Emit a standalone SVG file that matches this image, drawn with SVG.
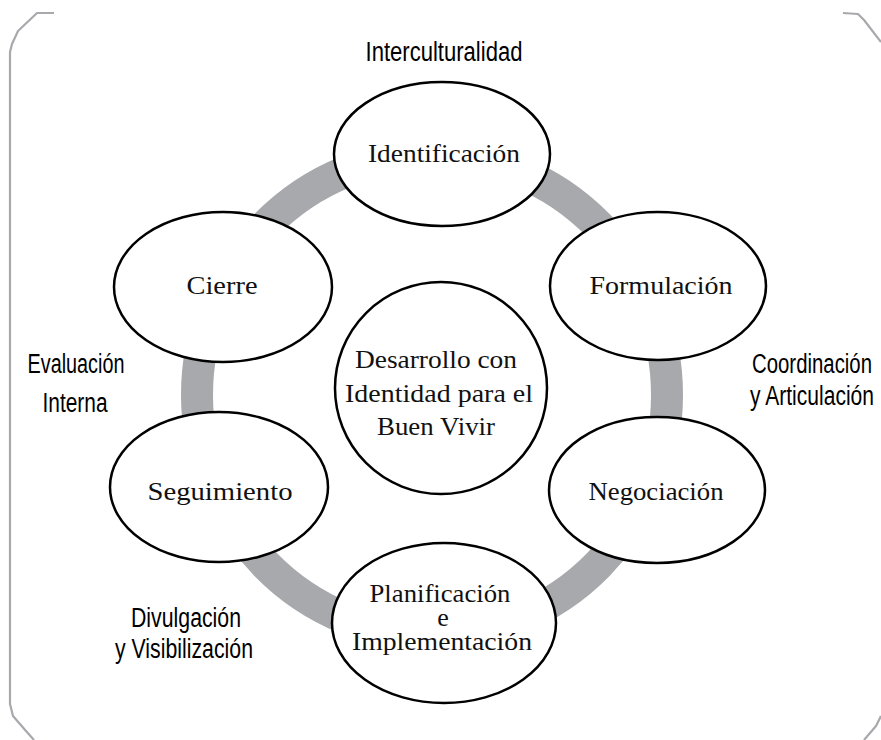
<svg xmlns="http://www.w3.org/2000/svg" width="881" height="740" viewBox="0 0 881 740">
<style>
.frame{fill:none;stroke:#a7a9ac;stroke-width:2.2;stroke-linejoin:round}
.ring{fill:none;stroke:#a7a9ac;stroke-width:32}
.node{fill:#fff;stroke:#000;stroke-width:2.5}
.nt{font-family:"Liberation Serif","Times New Roman",serif;font-size:26px;fill:#111;text-anchor:middle}
.lb{font-family:"Liberation Sans Narrow","Liberation Sans",Arial,sans-serif;font-size:27px;fill:#000;text-anchor:middle}
.lbe{text-anchor:end}
</style>
<rect width="881" height="740" fill="#fff"/>
<path class="frame" d="M54,13 L37,13 L18,31 L12,44 L10,52 L10,704 L13,716 L26,731 L34,740"/>
<path class="frame" d="M843,13 L858,14 L864,20 L881,42"/>
<path class="frame" d="M881,716 L876,726 L864,740"/>
<g id="connectors">
<ellipse class="ring" cx="432" cy="395" rx="235" ry="240"/>
</g>
<g id="n-identificacion">
<ellipse class="node" cx="442" cy="154" rx="108" ry="72"/>
<text class="nt" x="444" y="162" textLength="152" lengthAdjust="spacingAndGlyphs">Identificación</text>
</g>
<g id="n-formulacion">
<ellipse class="node" cx="658" cy="286" rx="108" ry="74"/>
<text class="nt" x="661" y="294" textLength="143" lengthAdjust="spacingAndGlyphs">Formulación</text>
</g>
<g id="n-negociacion">
<ellipse class="node" cx="657" cy="490" rx="108" ry="73"/>
<text class="nt" x="656" y="500" textLength="135" lengthAdjust="spacingAndGlyphs">Negociación</text>
</g>
<g id="n-planificacion">
<ellipse class="node" cx="444" cy="623" rx="112" ry="80"/>
<text class="nt" x="440" y="602" textLength="141" lengthAdjust="spacingAndGlyphs">Planificación</text>
<text class="nt" x="443" y="626">e</text>
<text class="nt" x="442" y="650" textLength="180" lengthAdjust="spacingAndGlyphs">Implementación</text>
</g>
<g id="n-seguimiento">
<ellipse class="node" cx="219" cy="487" rx="109" ry="75"/>
<text class="nt" x="220" y="500" textLength="145" lengthAdjust="spacingAndGlyphs">Seguimiento</text>
</g>
<g id="n-cierre">
<ellipse class="node" cx="223" cy="287" rx="109" ry="75"/>
<text class="nt" x="222" y="294" textLength="71" lengthAdjust="spacingAndGlyphs">Cierre</text>
</g>
<g id="n-centro">
<circle class="node" cx="441" cy="388" r="106"/>
<text class="nt" x="436" y="368" textLength="162" lengthAdjust="spacingAndGlyphs">Desarrollo con</text>
<text class="nt" x="439" y="402" textLength="188" lengthAdjust="spacingAndGlyphs">Identidad para el</text>
<text class="nt" x="436" y="435" textLength="118" lengthAdjust="spacingAndGlyphs">Buen Vivir</text>
</g>
<g id="labels">
<text class="lb" x="444" y="61" textLength="157" lengthAdjust="spacingAndGlyphs">Interculturalidad</text>
<text class="lb" x="76" y="373" textLength="97" lengthAdjust="spacingAndGlyphs">Evaluación</text>
<text class="lb" x="75" y="412" textLength="65" lengthAdjust="spacingAndGlyphs">Interna</text>
<text class="lb lbe" x="872" y="373" textLength="120" lengthAdjust="spacingAndGlyphs">Coordinación</text>
<text class="lb lbe" x="874" y="405" textLength="124" lengthAdjust="spacingAndGlyphs">y Articulación</text>
<text class="lb" x="186" y="627" textLength="110" lengthAdjust="spacingAndGlyphs">Divulgación</text>
<text class="lb" x="184" y="658" textLength="138" lengthAdjust="spacingAndGlyphs">y Visibilización</text>
</g>
</svg>
